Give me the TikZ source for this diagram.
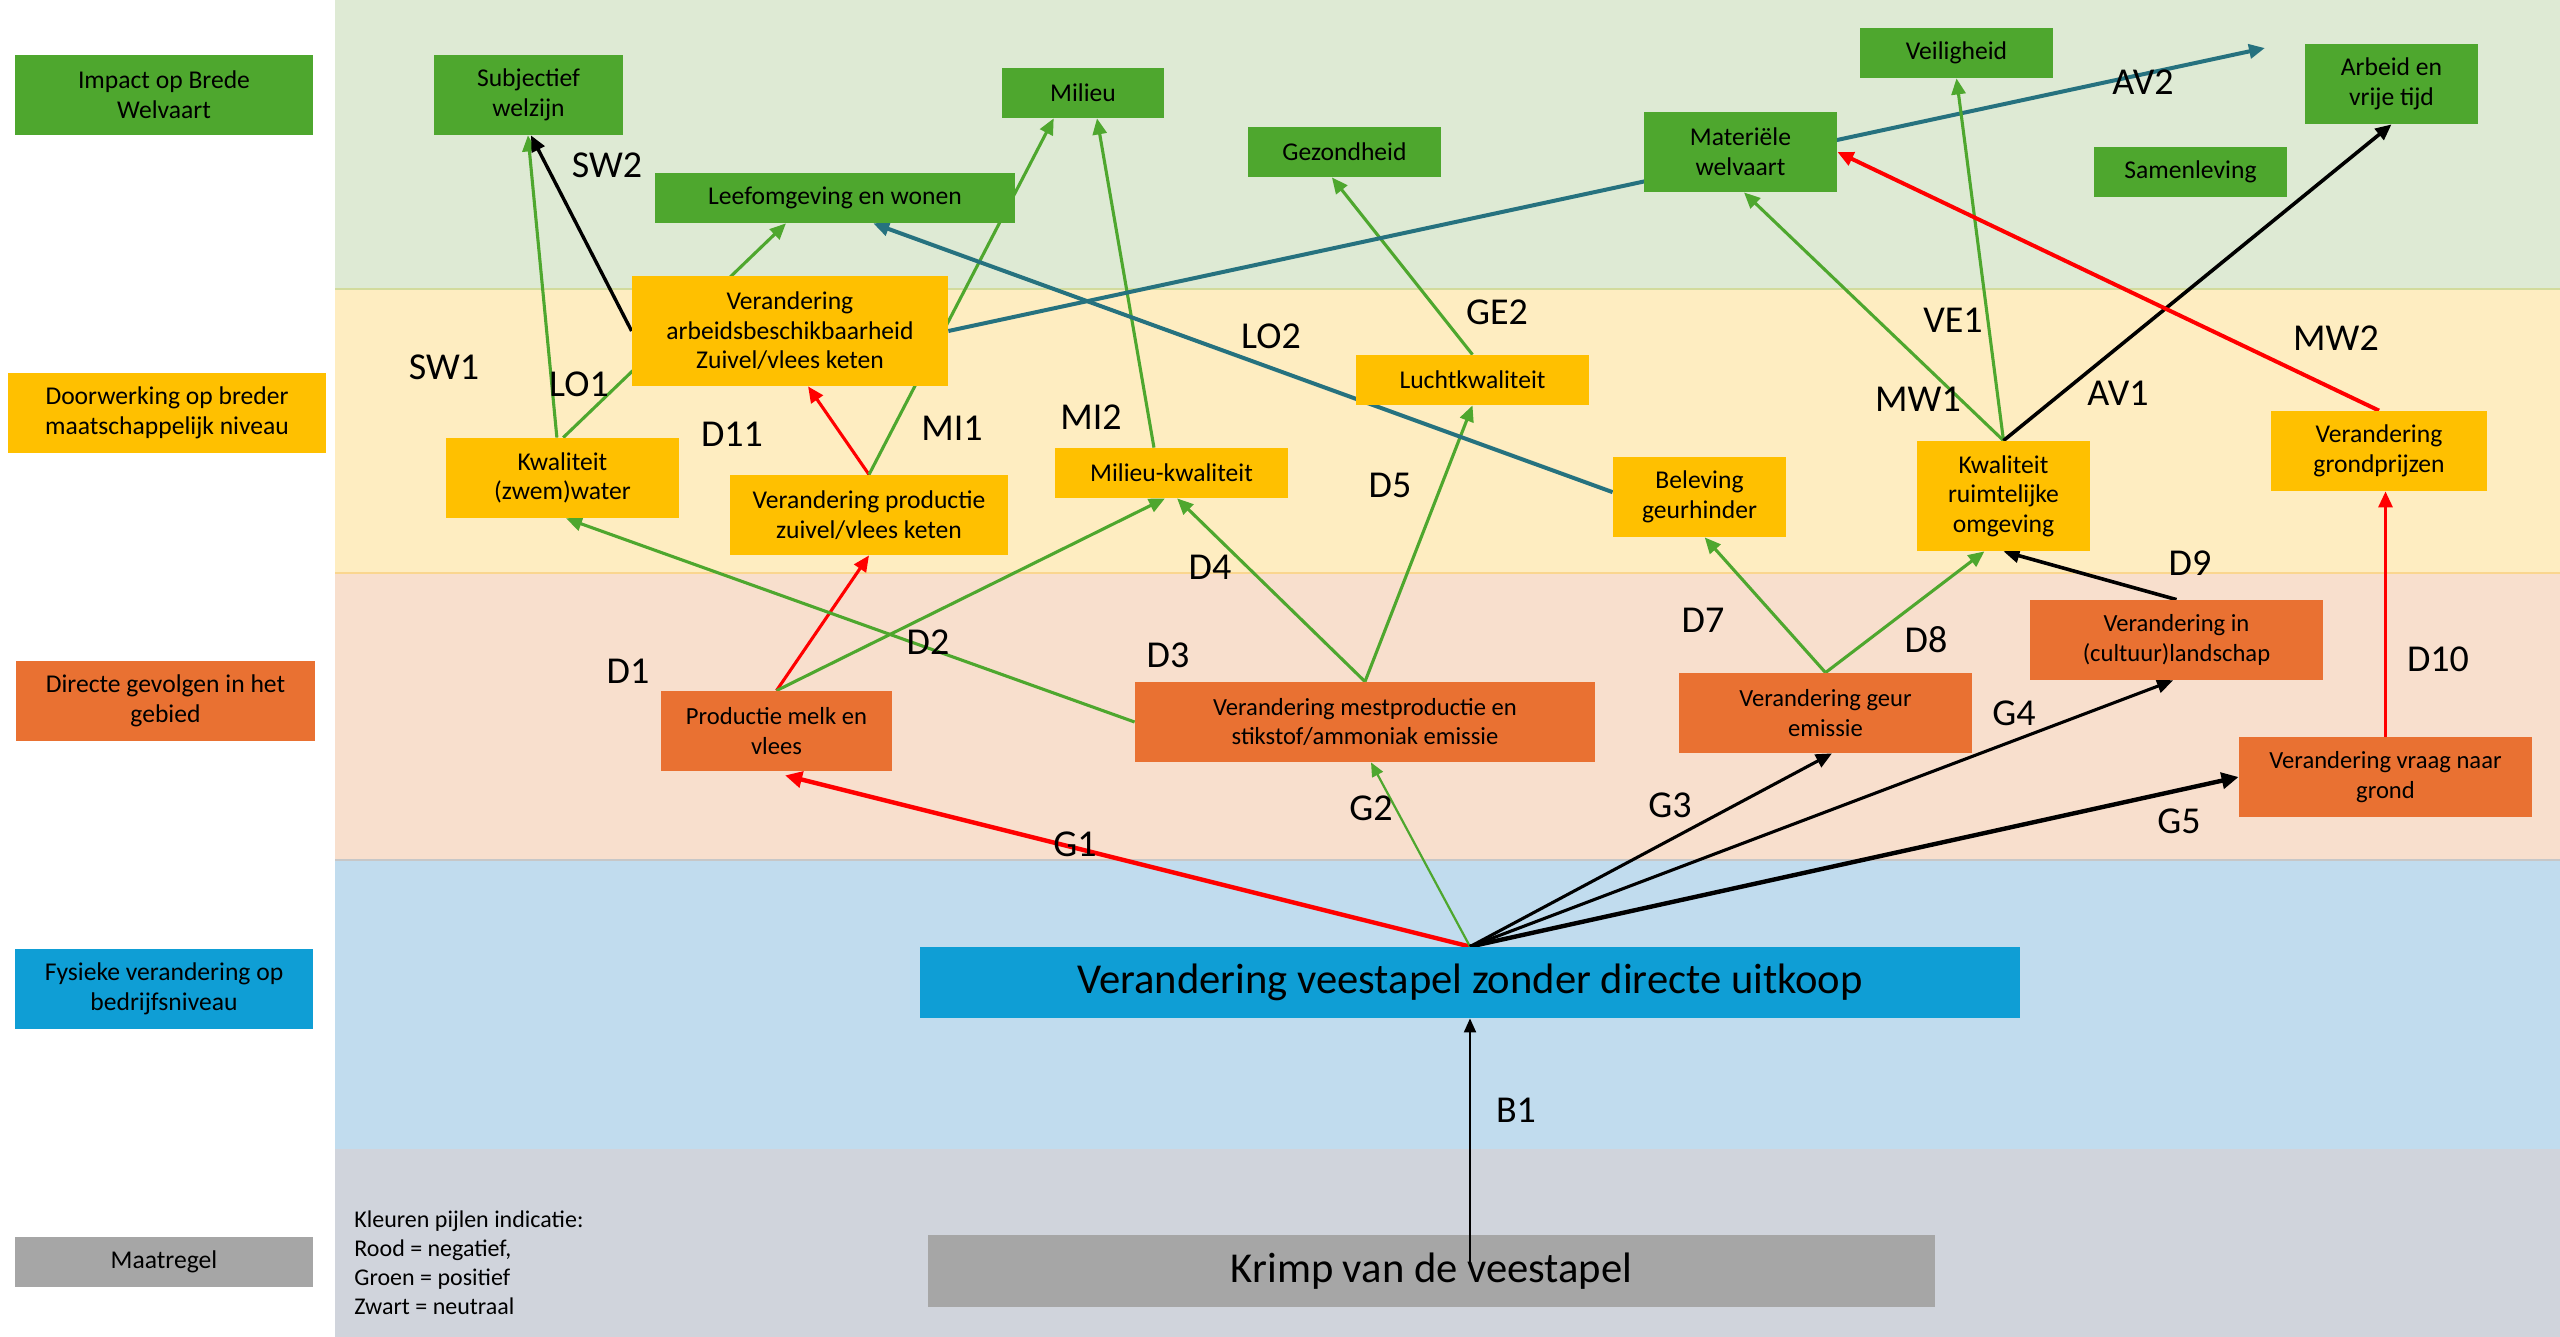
\documentclass[tikz,border=0pt]{standalone}
\usepackage{fontspec}
\setmainfont{Carlito}
\usetikzlibrary{arrows.meta,calc}
\pgfdeclarelayer{bands}
\pgfdeclarelayer{links}
\pgfsetlayers{bands,links,main}

\definecolor{bandGreen}{HTML}{DEEAD4}
\definecolor{bandYellow}{HTML}{FEEDC1}
\definecolor{bandPeach}{HTML}{F8DFCD}
\definecolor{bandBlue}{HTML}{C1DCEE}
\definecolor{bandGray}{HTML}{D0D4DC}
\definecolor{boxGreen}{HTML}{4EA72E}
\definecolor{boxYellow}{HTML}{FFC000}
\definecolor{boxOrange}{HTML}{E97132}
\definecolor{boxBlue}{HTML}{0F9ED5}
\definecolor{boxGray}{HTML}{A6A6A6}
\definecolor{lnRed}{HTML}{FF0000}
\definecolor{lnGreen}{HTML}{4EA72E}
\definecolor{lnTeal}{HTML}{26727F}

\begin{document}
\begin{tikzpicture}[x=0.5pt,y=-0.5pt,
  sz/.style 2 args={minimum width=#1*0.5pt, minimum height=#2*0.5pt},
  box/.style={draw=none, inner sep=0pt, align=center, text=black,
    font=\fontsize{12.8}{14.8}\selectfont},
  gbox/.style={box, fill=boxGreen},
  ybox/.style={box, fill=boxYellow},
  obox/.style={box, fill=boxOrange, font=\fontsize{12.3}{14.6}\selectfont},
  bigbox/.style={box, font=\fontsize{21.3}{25}\selectfont},
  lbl/.style={inner sep=0pt, text=black, font=\fontsize{19}{22}\selectfont},
  tipM/.style={-{Triangle[length=8pt,width=7pt]}},
  tipS/.style={-{Triangle[length=7pt,width=6pt]}},
  tipL/.style={-{Triangle[length=8.5pt,width=8pt]}},
  linkThin/.style={tipS, line width=1.1pt},
  linkMid/.style={tipM, line width=1.55pt},
  linkThick/.style={tipL, line width=2.2pt},
]
\useasboundingbox (0,0) rectangle (2560,1337);

% level bands
\begin{pgfonlayer}{bands}
  \fill[white] (0,0) rectangle (2560,1337);
  \fill[bandGreen]  (335,0)    rectangle (2560,289);
  \fill[bandYellow] (335,289)  rectangle (2560,573);
  \fill[bandPeach]  (335,573)  rectangle (2560,860);
  \fill[bandBlue]   (335,860)  rectangle (2560,1149);
  \fill[bandGray]   (335,1149) rectangle (2560,1337);
  \draw[line width=1pt, color=boxGreen!25!bandYellow] (335,289) -- (2560,289);
  \draw[line width=1pt, color=boxYellow!30!bandPeach] (335,573) -- (2560,573);
  \draw[line width=1pt, color=black!22] (335,860) -- (2560,860);
\end{pgfonlayer}

% level captions
\node[gbox, sz={298}{80}] (hImpact) at (164,95) {Impact op Brede\\Welvaart};
\node[ybox, sz={318}{80}] (hDoor) at (167,413) {Doorwerking op breder\\maatschappelijk niveau};
\node[obox, sz={299}{80}, font=\fontsize{12.8}{14.8}\selectfont] (hDirect) at (165.5,701) {Directe gevolgen in het\\gebied};
\node[box, fill=boxBlue, sz={298}{80}] (hFys) at (164,989) {Fysieke verandering op\\bedrijfsniveau};
\node[box, fill=boxGray, sz={298}{50}] (hMaat) at (164,1262) {Maatregel};

% impact on broad welfare
\node[gbox, sz={189}{80}] (sw) at (528.5,95) {Subjectief\\welzijn};
\node[gbox, sz={360}{50}] (lw) at (835,198) {Leefomgeving en wonen};
\node[gbox, sz={162}{50}] (mi) at (1083,93) {Milieu};
\node[gbox, sz={193}{50}] (ge) at (1344.5,152) {Gezondheid};
\node[gbox, sz={193}{80}] (mw) at (1740.5,152) {Materiële\\welvaart};
\node[gbox, sz={193}{50}] (ve) at (1956.5,53) {Veiligheid};
\node[gbox, sz={173}{80}] (av) at (2391.5,84) {Arbeid en\\vrije tijd};
\node[gbox, sz={193}{50}] (sa) at (2190.5,172) {Samenleving};

% wider societal effects
\node[ybox, sz={316}{110}] (ab) at (790,331) {Verandering\\arbeidsbeschikbaarheid\\Zuivel/vlees keten};
\node[ybox, sz={233}{80}] (zw) at (562.5,478) {Kwaliteit\\(zwem)water};
\node[ybox, sz={278}{80}] (pz) at (869,515) {Verandering productie\\zuivel/vlees keten};
\node[ybox, sz={233}{50}] (mk) at (1171.5,473) {Milieu-kwaliteit};
\node[ybox, sz={233}{50}] (lk) at (1472.5,380) {Luchtkwaliteit};
\node[ybox, sz={173}{80}] (bg) at (1699.5,497) {Beleving\\geurhinder};
\node[ybox, sz={173}{110}] (kr) at (2003.5,496) {Kwaliteit\\ruimtelijke\\omgeving};
\node[ybox, sz={216}{80}] (gp) at (2379,451) {Verandering\\grondprijzen};

% direct effects in the area
\node[obox, sz={231}{80}] (pm) at (776.5,731) {Productie melk en\\vlees};
\node[obox, sz={460}{80}] (mp) at (1365,722) {Verandering mestproductie en\\stikstof/ammoniak emissie};
\node[obox, sz={293}{80}] (gu) at (1825.5,713) {Verandering geur\\emissie};
\node[obox, sz={293}{80}] (cl) at (2176.5,640) {Verandering in\\(cultuur)landschap};
\node[obox, sz={293}{80}] (vg) at (2385.5,777) {Verandering vraag naar\\grond};

% farm level and measure
\node[bigbox, fill=boxBlue, sz={1100}{71}] (vv) at (1470,982.5) {Verandering veestapel zonder directe uitkoop};
\node[bigbox, fill=boxGray, sz={1007}{72}] (kv) at (1431.5,1271) {Krimp van de veestapel};

% colour legend
\node[inner sep=0pt, align=left, anchor=west, font=\fontsize{12}{14.5}\selectfont] (legend) at (354,1262.5)
  {Kleuren pijlen indicatie:\\Rood = negatief,\\Groen = positief\\Zwart = neutraal};

\coordinate (av2end) at (2265,48);

% connectors
\begin{pgfonlayer}{links}
  % from the farm level
  \draw[linkThick, lnRed] (vv.north) -- ($(pm.south west)!0.537!(pm.south east)+(0,4)$);
  \draw[linkThin, lnGreen] (vv.north) -- ($(mp.south west)!0.513!(mp.south east)$);
  \draw[linkMid, black] (vv.north) -- ($(gu.south west)!0.522!(gu.south east)$);
  \draw[linkMid, black] (vv.north) -- ($(cl.south west)!0.488!(cl.south east)$);
  \draw[linkThick, black] (vv.north) -- (vg.west);
  % direct effects
  \draw[linkMid, lnRed] (pm.north) -- (pz.south);
  \draw[linkMid, lnGreen] (pm.north) -- ($(mk.south west)!0.472!(mk.south east)$);
  \draw[linkMid, lnGreen] (mp.west) -- ($(zw.south west)!0.515!(zw.south east)$);
  \draw[linkMid, lnGreen] (mp.north) -- ($(mk.south west)!0.524!(mk.south east)$);
  \draw[linkMid, lnGreen] (mp.north) -- (lk.south);
  \draw[linkMid, lnGreen] (gu.north) -- ($(bg.south west)!0.53!(bg.south east)$);
  \draw[linkMid, lnGreen] (gu.north) -- ($(kr.south west)!0.39!(kr.south east)$);
  \draw[linkMid, black, line width=1.8pt] (cl.north) -- (kr.south);
  \draw[linkMid, lnRed] (vg.north) -- (vg.north |- gp.south);
  % wider effects
  \draw[linkMid, lnRed] (pz.north) -- ($(ab.south west)!0.557!(ab.south east)$);
  \draw[linkMid, lnGreen] (pz.north) -- ($(mi.south west)!0.32!(mi.south east)$);
  \draw[linkMid, lnGreen] ($(mk.north west)!0.425!(mk.north east)$) -- ($(mi.south west)!0.586!(mi.south east)$);
  \draw[linkMid, lnGreen] (lk.north) -- ($(ge.south west)!0.435!(ge.south east)$);
  \draw[linkMid, lnTeal, line width=2pt] ($(bg.north west)!0.44!(bg.south west)$) -- ($(lw.south west)!0.606!(lw.south east)$);
  \draw[linkMid, lnGreen] ($(zw.north west)!0.476!(zw.north east)$) -- ($(sw.south west)!0.497!(sw.south east)$);
  \draw[linkMid, lnGreen] ($(zw.north west)!0.503!(zw.north east)$) -- ($(lw.south west)!0.364!(lw.south east)$);
  \draw[linkMid, black, line width=1.7pt] (ab.west) -- ($(sw.south west)!0.513!(sw.south east)$);
  \draw[linkMid, lnTeal, line width=2pt] (ab.east) -- (av2end);
  \draw[linkMid, lnGreen] (kr.north) -- ($(mw.south west)!0.518!(mw.south east)$);
  \draw[linkMid, lnGreen] (kr.north) -- (ve.south);
  \draw[linkMid, black, line width=1.8pt] (kr.north) -- (av.south);
  \draw[linkMid, lnRed, line width=2pt] (gp.north) -- (mw.east);
\end{pgfonlayer}

% measure to farm level, drawn over the measure box
\draw[linkThin, black, line width=1pt] ($(vv.south |- kv.north)+(0,27)$) -- (vv.south);

% connector codes
\node[lbl] (tSW2) at (607,165) {SW2};
\node[lbl] (tSW1) at (444,367) {SW1};
\node[lbl] (tLO1) at (579,384) {LO1};
\node[lbl] (tD11) at (732,434) {D11};
\node[lbl] (tMI1) at (952,428) {MI1};
\node[lbl] (tMI2) at (1091,417) {MI2};
\node[lbl] (tLO2) at (1271,336) {LO2};
\node[lbl] (tGE2) at (1497,312) {GE2};
\node[lbl] (tD5) at (1390,485) {D5};
\node[lbl] (tD4) at (1210,567) {D4};
\node[lbl] (tD1) at (628,671) {D1};
\node[lbl] (tD2) at (928,642) {D2};
\node[lbl] (tD3) at (1168,655) {D3};
\node[lbl] (tG1) at (1075,844) {G1};
\node[lbl] (tG2) at (1371,808) {G2};
\node[lbl] (tG3) at (1670,805) {G3};
\node[lbl] (tG4) at (2014,713) {G4};
\node[lbl] (tG5) at (2179,821) {G5};
\node[lbl] (tD7) at (1703,620) {D7};
\node[lbl] (tD8) at (1926,640) {D8};
\node[lbl] (tD9) at (2190,563) {D9};
\node[lbl] (tD10) at (2438,659) {D10};
\node[lbl] (tVE1) at (1953,320) {VE1};
\node[lbl] (tMW1) at (1918,399) {MW1};
\node[lbl] (tAV1) at (2118,393) {AV1};
\node[lbl] (tMW2) at (2336,338) {MW2};
\node[lbl] (tAV2) at (2143,82) {AV2};
\node[lbl] (tB1) at (1516,1110) {B1};
\end{tikzpicture}
\end{document}
